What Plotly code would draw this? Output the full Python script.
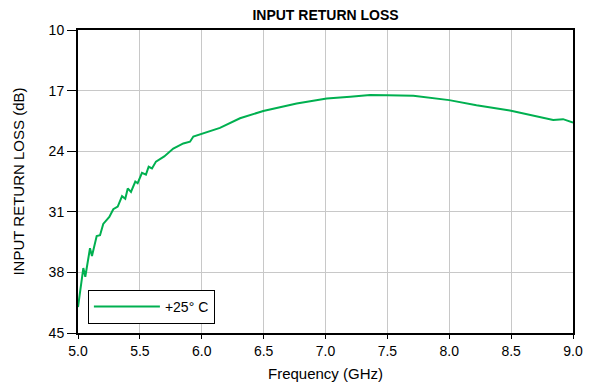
import plotly.graph_objects as go

freq_ghz = [5.0, 5.043, 5.059, 5.097, 5.113, 5.151, 5.178, 5.204, 5.253, 5.285,
            5.321, 5.356, 5.382, 5.402, 5.428, 5.463, 5.482, 5.517, 5.549, 5.571,
            5.598, 5.630, 5.697, 5.770, 5.851, 5.905, 5.932, 6.0, 6.147, 6.309,
            6.497, 6.767, 7.01, 7.2, 7.36, 7.5, 7.71, 8.0, 8.22, 8.49,
            8.65, 8.84, 8.92, 9.0]
return_loss_db = [42.0, 37.5, 38.5, 35.2, 36.1, 33.8, 33.7, 32.4, 31.6, 30.7,
                  30.4, 29.2, 29.5, 28.3, 28.7, 27.5, 27.7, 26.5, 26.7, 25.8,
                  26.0, 25.2, 24.6, 23.7, 23.1, 22.9, 22.3, 22.0, 21.3, 20.2,
                  19.35, 18.5, 17.9, 17.7, 17.5, 17.55, 17.6, 18.1, 18.7, 19.3,
                  19.8, 20.4, 20.3, 20.7]
series_name = "+25\u00b0 C"
y_ticks = [10, 17, 24, 31, 38, 45]
x_ticks = [5.0, 5.5, 6.0, 6.5, 7.0, 7.5, 8.0, 8.5, 9.0]

FONT = "Liberation Sans, Arial, sans-serif"

fig = go.Figure()
fig.add_trace(go.Scatter(
    x=freq_ghz, y=return_loss_db, mode="lines", name=series_name,
    line=dict(color="#00b050", width=2), showlegend=True,
))

fig.update_layout(
    width=591, height=392,
    margin=dict(l=78, r=18, t=30, b=59),
    paper_bgcolor="white", plot_bgcolor="white",
    font=dict(family=FONT, size=14, color="black"),
    title=dict(text="<b>INPUT RETURN LOSS</b>", x=0.5, xref="paper",
               y=0.962, yanchor="middle", font=dict(size=14, family=FONT)),
    showlegend=True,
    legend=dict(x=0.02, y=0.03, xanchor="left", yanchor="bottom",
                bordercolor="black", borderwidth=1, bgcolor="white",
                font=dict(size=14, family=FONT), itemwidth=66),
)
fig.update_xaxes(
    range=[5.0, 9.0], tickvals=x_ticks, ticktext=[f"{v:.1f}" for v in x_ticks],
    showgrid=True, gridcolor="#c8c8c8", gridwidth=1,
    showline=True, linecolor="black", linewidth=2, mirror=True,
    ticks="outside", ticklen=4, tickcolor="black",
    tickfont=dict(size=14), zeroline=False, automargin=False,
    title=dict(text="Frequency (GHz)", font=dict(size=15), standoff=11),
)
fig.update_yaxes(
    range=[45, 10], tickvals=y_ticks,
    showgrid=True, gridcolor="#c8c8c8", gridwidth=1,
    showline=True, linecolor="black", linewidth=2, mirror=True,
    ticks="outside", ticklen=9, tickcolor="black",
    tickfont=dict(size=14), zeroline=False, automargin=False,
    title=dict(text="INPUT RETURN LOSS (dB)", font=dict(size=15), standoff=20),
)

fig.write_html("out.html")
